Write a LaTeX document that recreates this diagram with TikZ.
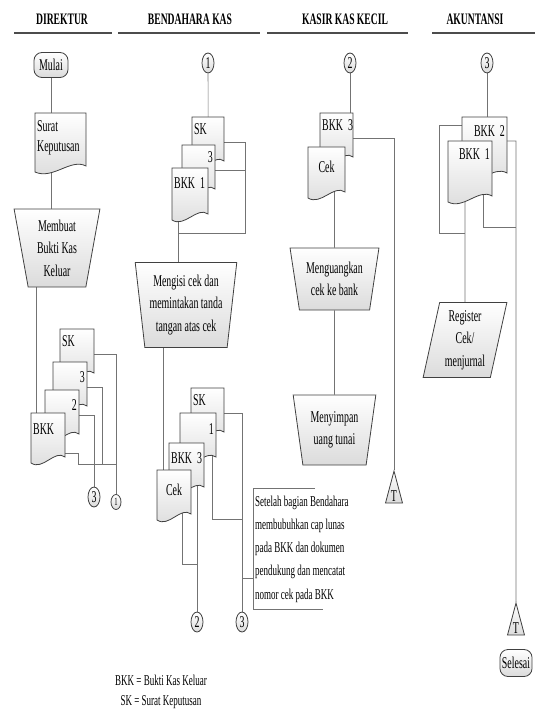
\documentclass[tikz,border=0pt]{standalone}
\usepackage{fontspec}
\setmainfont{Liberation Serif}[FakeStretch=0.6]
\usetikzlibrary{shapes.geometric,shapes.misc,calc,backgrounds}

\tikzset{
  lane/.style={line width=1.5pt, draw=black!70},
  lanetitle/.style={font=\fontsize{16}{18}\selectfont\bfseries},
  flow/.style={draw=black!55, line width=0.6pt},
  shaded/.style={draw=black!75, line width=0.8pt, top color=white, bottom color=black!14},
  docshape/.style={shaded},
  docbox/.style={rectangle, inner sep=0pt},
  doctext/.style={inner xsep=2pt, inner ysep=6pt, align=left},
  manual/.style={shaded, trapezium, trapezium stretches=true, shape border rotate=180, align=center, inner sep=2pt},
  terminal/.style={shaded, rectangle, rounded corners=8pt, inner xsep=2pt, inner ysep=1pt},
  connector/.style={shaded, ellipse, inner sep=0pt, minimum width=12, minimum height=20},
  offpage/.style={shaded, isosceles triangle, isosceles triangle stretches=true, shape border rotate=90, inner sep=0pt, minimum width=17, minimum height=32},
  register/.style={shaded, trapezium, trapezium stretches=true, trapezium left angle=77, trapezium right angle=103, align=center},
  note/.style={align=left, inner xsep=2pt, inner ysep=7pt, font=\fontsize{15}{23.3}\selectfont}
}

% dokumen: nama, x, y (pojok kiri atas), lebar, tinggi, teks
\newcommand{\docnode}[7][anchor=north west]{%
  \draw[docshape] (#3,#4) -- ({#3+#5},#4) -- ({#3+#5},{#4+#6-6})
    .. controls ({#3+0.7*#5},{#4+#6-14}) and ({#3+0.35*#5},{#4+#6+8}) .. (#3,{#4+#6}) -- cycle;
  \node[docbox, minimum width=#5, minimum height=#6, anchor=north west] (#2) at (#3,#4) {};
  \node[doctext, #1] (#2-t) at (#2.north west) {#7};
}

\begin{document}
\begin{tikzpicture}[x=1pt, y=-1pt, font=\fontsize{16.5}{22.5}\selectfont]
\useasboundingbox (0,0) rectangle (540,711);

% judul lajur
\node[lanetitle] (tdir) at (62,19) {DIREKTUR};
\node[lanetitle] (tben) at (190,19) {BENDAHARA KAS};
\node[lanetitle] (tkas) at (345,19) {KASIR KAS KECIL};
\node[lanetitle] (takun) at (475,19) {AKUNTANSI};
\draw[lane] (14,33) -- (112,33);
\draw[lane] (118,33) -- (260,33);
\draw[lane] (267,33) -- (408,33);
\draw[lane] (432,33) -- (535,33);

% direktur
\node[terminal, minimum width=34, minimum height=25] (dmulai) at (51,65) {Mulai};
\docnode[anchor=north west, yshift=-1, font=\fontsize{16.5}{20}\selectfont]{dsurat}{35}{113}{51}{59}{Surat\\Keputusan}
\node[manual, trapezium left angle=80, trapezium right angle=80, minimum width=86, minimum height=78] (dmembuat) at (57,248) {Membuat\\Bukti Kas\\Keluar};
\docnode{dsk}{60}{329}{34}{50}{SK}
\docnode[anchor=north east, xshift=34, yshift=-3]{d3}{53}{362}{34}{50}{3}
\docnode[anchor=north east, xshift=34, yshift=-3]{d2}{45}{390}{34}{50}{2}
\docnode[anchor=north west, yshift=-4]{dbkk}{31}{413}{34}{50}{BKK}
\node[connector] (dcon3) at (94,497) {3};
\node[connector, minimum width=10, minimum height=15, font=\fontsize{11}{12}\selectfont] (dcon1) at (116,502) {1};

% bendahara kas
\node[connector] (bcon1) at (208,63) {1};
\docnode{bsk}{192}{117}{32}{50}{SK}
\docnode[anchor=north east, xshift=33]{b3}{182}{145}{33}{50}{3}
\docnode[anchor=north west, yshift=-3]{bbkk1}{172}{168}{36}{52}{BKK~~1}
\node[manual, trapezium left angle=82, trapezium right angle=82, minimum width=102, minimum height=85] (bmengisi) at (186,305) {Mengisi cek dan\\memintakan tanda\\tangan atas cek};
\docnode{bsk2}{191}{388}{33}{50}{SK}
\docnode[anchor=north east, xshift=36, yshift=-4]{b1}{180}{413}{36}{50}{1}
\docnode[anchor=north west, yshift=-3]{bbkk3}{169}{443}{35}{50}{BKK~~3}
\docnode[anchor=north, xshift=17, yshift=-8]{bcek}{157}{470}{34}{50}{Cek}
\node[connector] (bcon2) at (197,622) {2};
\node[connector] (bcon3) at (242,622) {3};
\node[note, anchor=west] (bcatatan) at (253,549) {Setelah bagian Bendahara\\membubuhkan cap lunas\\pada BKK dan dokumen\\pendukung dan mencatat\\nomor cek pada BKK};

% kasir kas kecil
\node[connector] (kcon2) at (350,63) {2};
\docnode{kbkk3}{320}{113}{33}{50}{BKK~~3}
\docnode[anchor=north, xshift=18.5, yshift=-8]{kcek}{308}{147}{37}{51}{Cek}
\node[manual, trapezium left angle=78, trapezium right angle=78, minimum width=89, minimum height=62] (kuang) at (334.5,279) {Menguangkan\\cek ke bank};
\node[manual, trapezium left angle=79, trapezium right angle=79, minimum width=83, minimum height=70] (kimpan) at (334.5,430) {Menyimpan\\uang tunai};
\node[offpage, anchor=apex] (kT) at (394,470) {T};

% akuntansi
\node[connector] (acon3) at (487,63) {3};
\docnode[anchor=north east, xshift=45, yshift=-2]{abkk2}{462}{117}{45}{62}{BKK~~2}
\docnode[anchor=north east, xshift=44, yshift=-1]{abkk1}{448}{141}{44}{61}{BKK~~1}
\node[register, minimum width=84, minimum height=75] (areg) at (465,340) {Register\\Cek/\\menjurnal};
\node[offpage, anchor=apex] (aT) at (516,602) {T};
\node[terminal, minimum width=32, minimum height=27] (aselesai) at (516,663) {Selesai};

\node[font=\fontsize{15}{20}\selectfont, align=center] (legenda) at (161,692) {BKK = Bukti Kas Keluar\\SK = Surat Keputusan};

\begin{scope}[on background layer]
% direktur
\draw[flow] (dmulai) -- (dmulai |- dmembuat.center);
\draw[flow] ($(dbkk.north west)+(5,0)$) coordinate (dk) -- (dk |- dmembuat.center);
\coordinate (dj) at (78,464);
\coordinate (djb) at (78,453);
\coordinate (dja) at (102,464);
\draw[flow] (dsk) -| (dcon1);
\draw[flow] (d3) -| (dja);
\draw[flow] (djb -| dbkk.center) -- (djb) -- (dj) -- (dj -| dcon1);
\draw[flow] (d2) -| (dcon3);
% bendahara kas
\draw[flow] (bcon1) -- (bsk);
\coordinate (bj) at (245,233);
\coordinate (bm) at (178,233);
\draw[flow] (bsk) -| (bj) -- (bm);
\draw[flow] (b3) -- (b3 -| bj);
\draw[flow] (bm |- bbkk1.center) -- (bm |- bmengisi.center);
\draw[flow] ($(bcek.north west)+(6,0)$) coordinate (bk) -- (bk |- bmengisi.center);
\coordinate (bj2) at (182,564);
\draw[flow] (bj2 |- bcek.center) -- (bj2) -- (bj2 -| bcon2);
\draw[flow] (bcon2 |- bbkk3.center) -- (bcon2);
\coordinate (bj4) at (212,519);
\draw[flow] (bj4 |- b1.center) -- (bj4) -- (bj4 -| bcon3);
\draw[flow] (bsk2) -| (bcon3);
\coordinate (bn) at (242,578);
\draw[flow] (bn) -- (bn -| bcatatan.west);
\draw[flow] ($(bcatatan.north west)+(62,0)$) -- (bcatatan.north west) -- (bcatatan.south west) -- ++(70,0);
% kasir kas kecil
\draw[flow] (kcon2) -- (kcon2 |- kbkk3.center);
\draw[flow] (kbkk3) -| (kT);
\draw[flow] (kuang |- kcek.center) -- (kuang) -- (kimpan);
% akuntansi
\draw[flow] (acon3) -- (acon3 |- abkk2.center);
\coordinate (aj0) at (439,125);
\coordinate (aj1) at (439,233);
\draw[flow] (aj0 -| abkk2.center) -- (aj0) -- (aj1) -- (aj1 -| areg);
\draw[flow] (areg |- abkk1.center) -- (areg);
\coordinate (aj2) at (516,141);
\draw[flow] (aj2 -| abkk2.center) -- (aj2) -- (aT);
\coordinate (aj3) at (483,227);
\draw[flow] (aj3 |- abkk1.center) -- (aj3) -- (aj3 -| aT);
\end{scope}
\end{tikzpicture}
\end{document}
